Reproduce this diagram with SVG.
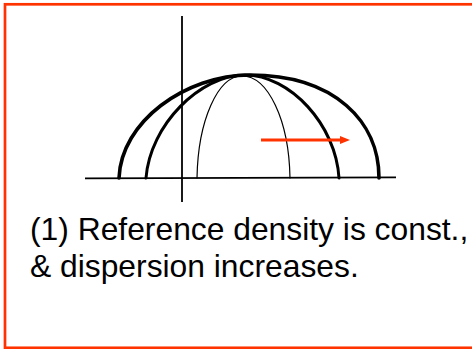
<svg xmlns="http://www.w3.org/2000/svg" width="472" height="349" viewBox="0 0 472 349">
  <defs>
    <style>
      .frame { fill: none; stroke: #ff3300; stroke-width: 2.7; }
      .axis { fill: none; stroke: #000; stroke-width: 1.8; }
      .curve { fill: none; stroke: #000; stroke-linecap: round; }
      .thick { stroke-width: 3.6; }
      .mid { stroke-width: 3; }
      .thin { stroke-width: 1.2; }
      .label { font-family: "Liberation Sans", Arial, sans-serif; font-size: 31.8px; fill: #000; }
    </style>
    <marker id="arrowhead" markerWidth="10" markerHeight="10" refX="0" refY="4" orient="auto" markerUnits="userSpaceOnUse">
      <path d="M0,0 L10,4 L0,8 Z" fill="#ff3300"/>
    </marker>
  </defs>
  <rect width="472" height="349" fill="#fff"/>
  <rect class="frame" x="5" y="4.3" width="500" height="343.5"/>

  <g id="axes">
    <line class="axis" x1="85" y1="178.3" x2="396" y2="177.3"/>
    <line class="axis" x1="182" y1="16" x2="182" y2="202"/>
  </g>

  <g id="curves">
    <path id="curve-outer" class="curve thick" d="M119,178 C121,122 185,75 250,75 C335,75 379,122 379,178"/>
    <path id="curve-middle" class="curve mid" d="M146,178 C150,125 200,75 245,75 C290,75 336,125 339,178"/>
    <path id="curve-inner" class="curve thin" d="M197,178 C198,120 218,76 242,76 C268,76 289,120 290,178"/>
  </g>

  <g id="connectors">
    <line x1="261" y1="140" x2="340" y2="140" stroke="#ff3300" stroke-width="3" marker-end="url(#arrowhead)"/>
  </g>

  <g id="caption">
    <text class="label" x="30" y="240">(1) Reference density is const.,</text>
    <text class="label" x="30" y="277">&amp; dispersion increases.</text>
  </g>
</svg>
